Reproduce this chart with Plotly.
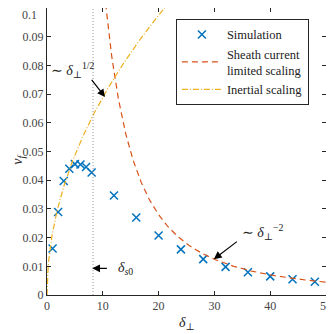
import numpy as np
import plotly.graph_objects as go

# Simulation data
delta_sim = [1, 2, 3, 4, 5, 6, 7, 8, 12, 16, 20, 24, 28, 32, 36, 40, 44, 48]
vf_sim = [0.0162, 0.0289, 0.0397, 0.0440, 0.0456, 0.0455, 0.0446, 0.0427,
          0.0347, 0.0270, 0.0207, 0.0159, 0.0125, 0.0098, 0.0079, 0.0065,
          0.0055, 0.0046]

# Scaling laws
C_sheath = 11.2
C_inertial = 0.0218
delta_s0 = 8.25

# Tick labels
x_ticks = [0, 10, 20, 30, 40, 50]
y_ticks = [0, 0.01, 0.02, 0.03, 0.04, 0.05, 0.06, 0.07, 0.08, 0.09, 0.1]
y_ticklabels = ["0", "0.01", "0.02", "0.03", "0.04", "0.05", "0.06", "0.07", "0.08", "0.09", "0.1"]

x_sheath = np.linspace(10.5, 50, 300)
y_sheath = C_sheath / x_sheath**2
x_inert = np.linspace(0, 21.5, 300)
y_inert = C_inertial * np.sqrt(x_inert)

FONT = "Liberation Serif, DejaVu Serif, Times New Roman, serif"
blue = "#0072BD"
orange = "#D95319"
yellow = "#EDB120"

fig = go.Figure()
fig.add_trace(go.Scatter(x=delta_sim, y=vf_sim, mode="markers", name="Simulation",
                         marker=dict(symbol="x-thin", size=8, line=dict(color=blue, width=1.5), color=blue)))
fig.add_trace(go.Scatter(x=x_sheath, y=y_sheath, mode="lines", name="Sheath current<br>limited scaling",
                         line=dict(color=orange, width=1.2, dash="6px,4px")))
fig.add_trace(go.Scatter(x=x_inert, y=y_inert, mode="lines", name="Inertial scaling",
                         line=dict(color=yellow, width=1.2, dash="6px,2px,1px,2px")))
fig.add_trace(go.Scatter(x=[delta_s0, delta_s0], y=[0, 0.1], mode="lines", showlegend=False,
                         line=dict(color="#999999", width=1, dash="1px,2px")))

axis_common = dict(showline=True, linecolor="#262626", linewidth=1, mirror="allticks",
                   ticks="inside", ticklen=4, tickcolor="#262626", showgrid=False, zeroline=False,
                   automargin=False, ticklabeloverflow="allow",
                   tickfont=dict(family=FONT, size=12, color="#444444"))

# top y tick label drawn as annotation so that it is not clipped at the page top
y_ticktext_axis = y_ticklabels[:-1] + [""]

fig.update_layout(
    width=334, height=334,
    margin=dict(l=39, r=16, t=0, b=47),
    paper_bgcolor="white", plot_bgcolor="white",
    font=dict(family=FONT, size=12, color="#222222"),
    xaxis=dict(range=[0, 50], tickvals=x_ticks, **axis_common),
    yaxis=dict(range=[0, 0.1], tickvals=y_ticks, ticktext=y_ticktext_axis, **axis_common),
    legend=dict(x=0.462, y=0.962, xanchor="left", yanchor="top",
                bgcolor="white", bordercolor="#262626", borderwidth=1,
                font=dict(family=FONT, size=12.5, color="#222222"),
                tracegroupgap=0, itemwidth=40),
)

fig.add_annotation(x=0, y=0.1, xref="paper", yref="y", showarrow=False,
                   xanchor="right", yanchor="top", xshift=-8, yshift=2,
                   text=y_ticklabels[-1], font=dict(family=FONT, size=12, color="#444444"))

# axis titles
fig.add_annotation(x=0.5, y=-0.098, xref="paper", yref="paper", showarrow=False,
                   xanchor="center", yanchor="middle",
                   text="<i>δ</i><sub>⊥</sub>", font=dict(family=FONT, size=14, color="#222222"))
fig.add_annotation(x=-0.105, y=0.47, xref="paper", yref="paper", showarrow=False, textangle=-90,
                   xanchor="center", yanchor="middle",
                   text="<i>v<sub>f</sub></i>", font=dict(family=FONT, size=14, color="#222222"))

fig.add_annotation(x=10.4, y=0.0690, ax=7.8, ay=0.0755, xref="x", yref="y", axref="x", ayref="y",
                   showarrow=True, arrowhead=2, arrowsize=1.3, arrowwidth=1.2, arrowcolor="black", text="")
fig.add_annotation(x=4.6, y=0.0785, xref="x", yref="y", showarrow=False,
                   text="∼ <i>δ</i><sub>⊥</sub><sup>1/2</sup>", font=dict(family=FONT, size=14, color="#222222"))

fig.add_annotation(x=29.9, y=0.0125, ax=34.3, ay=0.0190, xref="x", yref="y", axref="x", ayref="y",
                   showarrow=True, arrowhead=2, arrowsize=1.3, arrowwidth=1.2, arrowcolor="black", text="")
fig.add_annotation(x=38.6, y=0.0218, xref="x", yref="y", showarrow=False,
                   text="∼ <i>δ</i><sub>⊥</sub><sup>−2</sup>", font=dict(family=FONT, size=14, color="#222222"))

fig.add_annotation(x=8.1, y=0.0093, ax=11.0, ay=0.0093, xref="x", yref="y", axref="x", ayref="y",
                   showarrow=True, arrowhead=2, arrowsize=1.3, arrowwidth=1.2, arrowcolor="black", text="")
fig.add_annotation(x=14.0, y=0.0093, xref="x", yref="y", showarrow=False,
                   text="<i>δ</i><sub><i>s</i>0</sub>", font=dict(family=FONT, size=14, color="#222222"))

fig.write_html("out.html")
